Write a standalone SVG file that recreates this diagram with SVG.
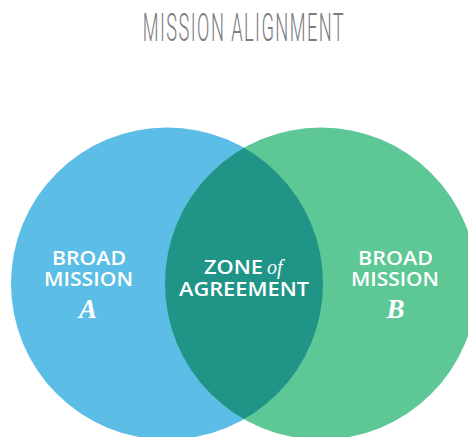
<svg xmlns="http://www.w3.org/2000/svg" width="468" height="437" viewBox="0 0 468 437">
  <style>
    .title { font-family: "Roboto", "Liberation Sans", sans-serif; font-weight: 300; font-size: 38px; fill: #7b7b7d; letter-spacing: 3px; }
    .lbl { font-family: "Open Sans", "Lato", "Liberation Sans", sans-serif; font-weight: 600; font-size: 19px; fill: #ffffff; }
    .ital { font-family: "Liberation Serif", "DejaVu Serif", serif; font-style: italic; font-weight: 700; fill: #ffffff; }
    .of { font-family: "Liberation Serif", "DejaVu Serif", serif; font-style: italic; font-weight: 400; font-size: 20px; fill: #ffffff; }
  </style>
  <defs>
    <clipPath id="clipA">
      <circle cx="167" cy="283.5" r="156"/>
    </clipPath>
  </defs>
  <rect width="468" height="437" fill="#ffffff"/>
  <text class="title" transform="translate(244,41) scale(0.48,1)" x="0" y="0" text-anchor="middle">MISSION ALIGNMENT</text>

  <g id="missionA">
    <circle cx="167" cy="283.5" r="156" fill="#5cbee6"/>
    <text class="lbl" x="52" y="265" textLength="74" lengthAdjust="spacingAndGlyphs">BROAD</text>
    <text class="lbl" x="44" y="285.5" textLength="89" lengthAdjust="spacingAndGlyphs">MISSION</text>
    <text class="ital" x="88" y="318" font-size="27" text-anchor="middle">A</text>
  </g>

  <g id="missionB">
    <circle cx="321" cy="283.5" r="156" fill="#5dc795"/>
    <text class="lbl" x="358" y="265" textLength="75" lengthAdjust="spacingAndGlyphs">BROAD</text>
    <text class="lbl" x="351" y="285.5" textLength="88" lengthAdjust="spacingAndGlyphs">MISSION</text>
    <text class="ital" x="395.5" y="318" font-size="27" text-anchor="middle">B</text>
  </g>

  <g id="zone">
    <circle cx="321" cy="283.5" r="156" fill="#219488" clip-path="url(#clipA)"/>
    <text class="lbl" x="204" y="274" textLength="59" lengthAdjust="spacingAndGlyphs">ZONE</text>
    <text class="of" x="267" y="274">of</text>
    <text class="lbl" x="179" y="295.5" textLength="130" lengthAdjust="spacingAndGlyphs">AGREEMENT</text>
  </g>

  <g id="connectors"/>
</svg>
